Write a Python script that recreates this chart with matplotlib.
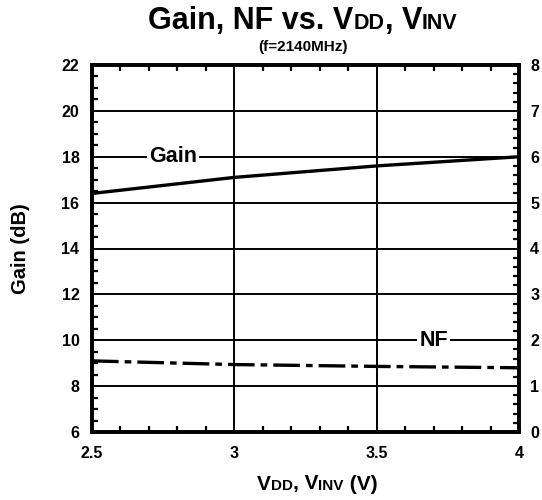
import matplotlib
matplotlib.use("Agg")
import matplotlib.pyplot as plt
from matplotlib.offsetbox import TextArea, HPacker, AnnotationBbox
from matplotlib.ticker import MultipleLocator

plt.rcParams['font.family'] = ['Liberation Sans', 'DejaVu Sans']
plt.rcParams['font.weight'] = 'bold'

vdd = [2.5, 3.0, 3.5, 4.0]
gain = [16.4, 17.1, 17.6, 18.0]
nf_v = [2.5, 3.0, 3.5, 4.0]
nf = [1.55, 1.47, 1.43, 1.40]

fig = plt.figure(figsize=(5.42, 5.0), dpi=100)
ax = fig.add_axes([92/542, 1-432/500, (519-92)/542, (432-65)/500])
ax2 = ax.twinx()

ax.plot(vdd, gain, color='black', lw=2.4, zorder=3)
ax2.plot(nf_v, nf, color='black', lw=2.4, dashes=(8, 1.8, 2, 1.8), zorder=3)

ax.set_xlim(2.5, 4)
ax.set_ylim(6, 22)
ax2.set_ylim(0, 8)
ax.xaxis.set_major_locator(MultipleLocator(0.5))
ax.xaxis.set_minor_locator(MultipleLocator(0.1))
ax.yaxis.set_major_locator(MultipleLocator(2))
ax.yaxis.set_minor_locator(MultipleLocator(0.5))
ax2.yaxis.set_major_locator(MultipleLocator(1))
ax2.yaxis.set_minor_locator(MultipleLocator(0.2))
ax.set_xticks([2.5, 3, 3.5, 4])
ax.set_xticklabels(['2.5', '3', '3.5', '4'])

ax.grid(True, which='major', color='black', lw=1.4)
ax.set_axisbelow(True)
for a in (ax, ax2):
    for s in a.spines.values():
        s.set_linewidth(2.6)
ax.tick_params(which='both', direction='in', top=True, labelsize=11.5, pad=9)
ax.tick_params(which='major', length=0, width=1.5)
ax.tick_params(which='minor', length=4, width=1.6)
ax.tick_params(axis='x', which='major', pad=10)
ax2.tick_params(which='both', direction='in', labelsize=11.5, pad=8)
ax2.tick_params(which='major', length=0)
ax2.tick_params(which='minor', length=4, width=1.6)
for lbl in ax.get_xticklabels() + ax.get_yticklabels() + ax2.get_yticklabels():
    lbl.set_fontweight('bold')

ax.set_ylabel('Gain (dB)', fontsize=14.5, fontweight='bold', labelpad=23)

# in-plot labels
ax.text(2.785, 18, 'Gain', fontsize=15.5, fontweight='bold', ha='center', va='center',
        bbox=dict(facecolor='white', edgecolor='none', pad=1.5), zorder=4)
ax.text(3.70, 10, 'NF', fontsize=15.5, fontweight='bold', ha='center', va='center',
        bbox=dict(facecolor='white', edgecolor='none', pad=1.5), zorder=4)

def rich(parts, xy):
    boxes = [TextArea(t, textprops=dict(fontsize=s, fontweight='bold', color='black')) for t, s in parts]
    pack = HPacker(children=boxes, align='baseline', pad=0, sep=0)
    ab = AnnotationBbox(pack, xy, xycoords='figure pixels', frameon=False, box_alignment=(0.5, 0.5))
    fig.add_artist(ab)

rich([('Gain, NF vs. V', 22), ('DD', 15.5), (', V', 22), ('INV', 15.5)], (303, 500-21))
fig.text(303/542, 1-47/500, '(f=2140MHz)', fontsize=11, fontweight='bold', ha='center', va='center')
rich([('V', 15), ('DD', 11), (', V', 15), ('INV', 11), (' (V)', 15)], (317, 500-484))

fig.savefig('out.png', dpi=100)
